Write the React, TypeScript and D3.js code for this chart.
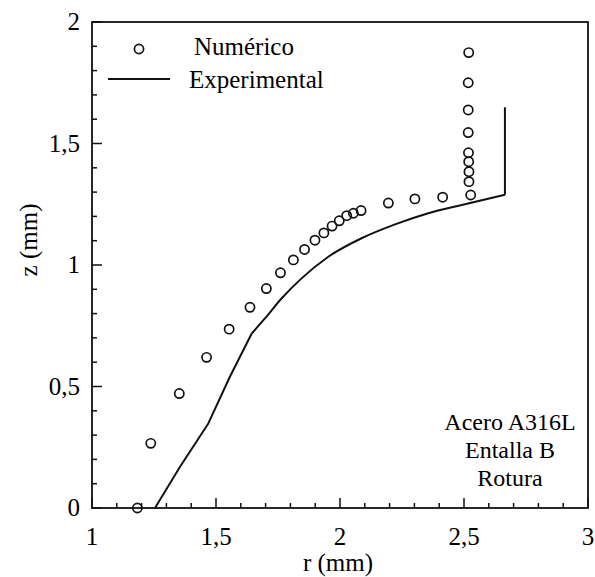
import React, { useRef, useEffect } from "react";
import * as d3 from "d3";

// Numérico (simulation) points
const numR = [
  1.183, 1.237, 1.352, 1.462, 1.553, 1.637, 1.703, 1.760, 1.812, 1.857, 1.899,
  1.935, 1.968, 1.997, 2.027, 2.054, 2.085, 2.195, 2.302, 2.414, 2.527, 2.52,
  2.52, 2.519, 2.518, 2.517, 2.517, 2.517, 2.519,
];
const numZ = [
  0, 0.266, 0.471, 0.620, 0.736, 0.826, 0.903, 0.968, 1.021, 1.064, 1.102,
  1.132, 1.160, 1.182, 1.203, 1.213, 1.224, 1.255, 1.272, 1.279, 1.288, 1.343,
  1.384, 1.425, 1.462, 1.545, 1.638, 1.750, 1.874,
];

// Experimental profile
const expR = [
  1.254, 1.355, 1.469, 1.556, 1.644, 1.698, 1.765, 1.845, 1.953, 2.087, 2.222,
  2.356, 2.491, 2.665, 2.665,
];
const expZ = [
  0, 0.17, 0.348, 0.54, 0.718, 0.781, 0.863, 0.945, 1.034, 1.11, 1.167, 1.213,
  1.247, 1.289, 1.649,
];
// straight flank up to the kink, smooth shoulder, then the vertical edge
const kinkIdx = 4;
const cornerIdx = 13;

const xTicks = [1, 1.5, 2, 2.5, 3];
const xTickLabels = ["1", "1,5", "2", "2,5", "3"];
const yTicks = [0, 0.5, 1, 1.5, 2];
const yTickLabels = ["0", "0,5", "1", "1,5", "2"];
const minorTicks = d3.range(0, 21).map((i) => i / 10);

const notes = ["Acero A316L", "Entalla B", "Rotura"];

const W = 595;
const H = 577;
const FONT = "'Liberation Serif', 'Times New Roman', serif";

const App = () => {
  const ref = useRef<SVGSVGElement>(null);

  useEffect(() => {
    const svg = d3.select(ref.current);
    svg.selectAll("*").remove();

    const x = d3.scaleLinear().domain([1, 3]).range([92, 588]);
    const y = d3.scaleLinear().domain([0, 2]).range([508, 22]);
    const isMajor = (d: number) => Math.abs(d * 2 - Math.round(d * 2)) < 1e-6;

    // frame
    svg
      .append("rect")
      .attr("x", x(1))
      .attr("y", y(2))
      .attr("width", x(3) - x(1))
      .attr("height", y(0) - y(2))
      .attr("fill", "none")
      .attr("stroke", "#111")
      .attr("stroke-width", 1.8);

    // ticks (inward, bottom and left only)
    const xMinor = minorTicks.map((v) => 1 + v).filter((v) => v <= 3);
    svg
      .append("g")
      .selectAll("line")
      .data(xMinor)
      .enter()
      .append("line")
      .attr("x1", (d) => x(d))
      .attr("x2", (d) => x(d))
      .attr("y1", y(0))
      .attr("y2", (d) => y(0) - (isMajor(d) ? 10 : 5))
      .attr("stroke", "#111")
      .attr("stroke-width", 1.5);

    svg
      .append("g")
      .selectAll("line")
      .data(minorTicks)
      .enter()
      .append("line")
      .attr("y1", (d) => y(d))
      .attr("y2", (d) => y(d))
      .attr("x1", x(1))
      .attr("x2", (d) => x(1) + (isMajor(d) ? 10 : 5))
      .attr("stroke", "#111")
      .attr("stroke-width", 1.5);

    // tick labels
    svg
      .append("g")
      .selectAll("text")
      .data(xTicks)
      .enter()
      .append("text")
      .attr("x", (d) => x(d))
      .attr("y", 545)
      .attr("text-anchor", "middle")
      .style("font-family", FONT)
      .style("font-size", "25px")
      .text((d, i) => xTickLabels[i]);

    svg
      .append("g")
      .selectAll("text")
      .data(yTicks)
      .enter()
      .append("text")
      .attr("x", 80)
      .attr("y", (d) => y(d) + 8)
      .attr("text-anchor", "end")
      .style("font-family", FONT)
      .style("font-size", "25px")
      .text((d, i) => yTickLabels[i]);

    // axis titles
    svg
      .append("text")
      .attr("x", 338)
      .attr("y", 571)
      .attr("text-anchor", "middle")
      .style("font-family", FONT)
      .style("font-size", "25px")
      .text("r (mm)");

    svg
      .append("text")
      .attr("transform", "translate(37,240) rotate(-90)")
      .attr("text-anchor", "middle")
      .style("font-family", FONT)
      .style("font-size", "25px")
      .text("z (mm)");

    // experimental line
    const pts: [number, number][] = expR.map((r, i) => [r, expZ[i]]);
    const straight = d3
      .line<[number, number]>()
      .x((d) => x(d[0]))
      .y((d) => y(d[1]));
    const smooth = d3
      .line<[number, number]>()
      .x((d) => x(d[0]))
      .y((d) => y(d[1]))
      .curve(d3.curveMonotoneX);

    const pieces = [
      { d: straight(pts.slice(0, kinkIdx + 1)) },
      { d: smooth(pts.slice(kinkIdx, cornerIdx + 1)) },
      { d: straight(pts.slice(cornerIdx)) },
    ];

    svg
      .append("g")
      .selectAll("path")
      .data(pieces)
      .enter()
      .append("path")
      .attr("d", (p) => p.d)
      .attr("fill", "none")
      .attr("stroke", "#111")
      .attr("stroke-width", 2)
      .attr("stroke-linejoin", "round");

    // numerical points
    svg
      .append("g")
      .selectAll("circle")
      .data(numZ)
      .enter()
      .append("circle")
      .attr("cx", (d, i) => x(numR[i]))
      .attr("cy", (d) => y(d))
      .attr("r", 4.6)
      .attr("fill", "none")
      .attr("stroke", "#111")
      .attr("stroke-width", 1.7);

    // legend
    const legend = svg.append("g");
    legend
      .append("circle")
      .attr("cx", 139)
      .attr("cy", 49)
      .attr("r", 4.6)
      .attr("fill", "none")
      .attr("stroke", "#111")
      .attr("stroke-width", 1.7);
    legend
      .append("text")
      .attr("x", 194)
      .attr("y", 55)
      .style("font-family", FONT)
      .style("font-size", "25px")
      .text("Numérico");
    legend
      .append("line")
      .attr("x1", 108)
      .attr("x2", 170)
      .attr("y1", 79)
      .attr("y2", 79)
      .attr("stroke", "#111")
      .attr("stroke-width", 2);
    legend
      .append("text")
      .attr("x", 189)
      .attr("y", 88)
      .style("font-family", FONT)
      .style("font-size", "25px")
      .text("Experimental");

    // annotation
    svg
      .append("g")
      .selectAll("text")
      .data(notes)
      .enter()
      .append("text")
      .attr("x", 510)
      .attr("y", (d, i) => 430 + i * 28)
      .attr("text-anchor", "middle")
      .style("font-family", FONT)
      .style("font-size", "24px")
      .text((d) => d);
  }, []);

  return (
    <div style={{ position: "absolute", left: 0, top: 0 }}>
      <svg ref={ref} width={W} height={H} style={{ display: "block", background: "#fff" }}></svg>
    </div>
  );
};

export default App;
